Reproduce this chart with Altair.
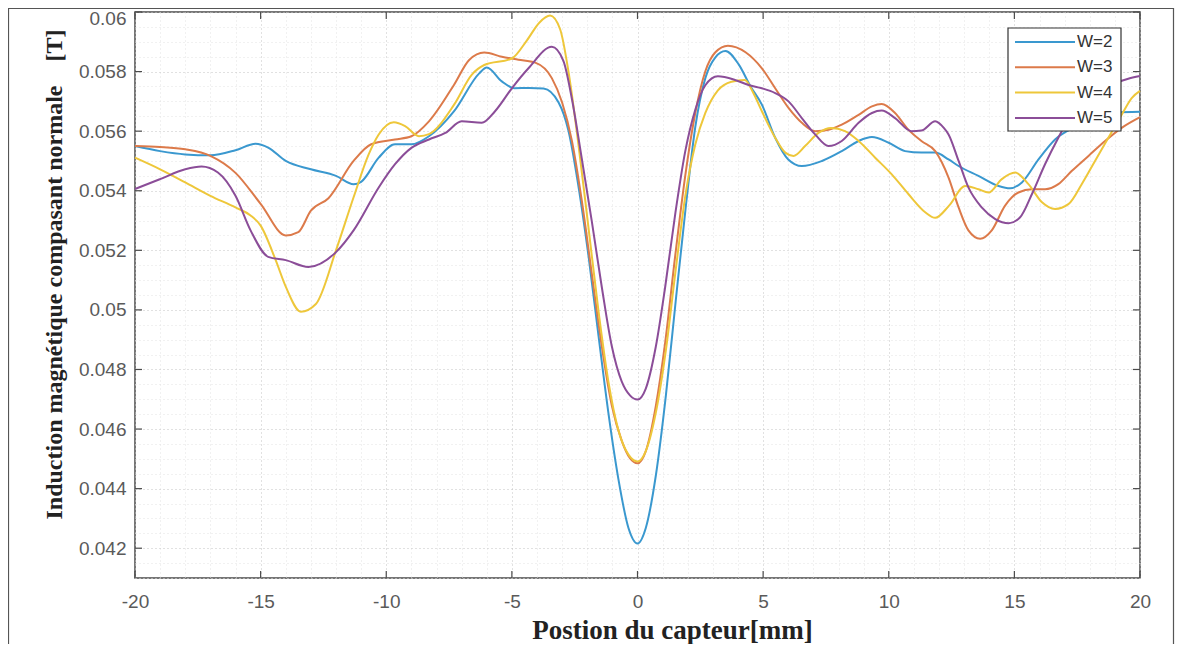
import altair as alt
import pandas as pd

# ---------------- data ----------------
series_names = ["W=2", "W=3", "W=4", "W=5"]
series_colors = ["#3a98cf", "#dc7a4a", "#eec73a", "#8b4d98"]

w2 = [(-20, 0.0555), (-19, 0.05533), (-18, 0.05522), (-17, 0.05519), (-16, 0.05536),
      (-15.2, 0.05558), (-14.7, 0.05545), (-14, 0.0550), (-13, 0.05472), (-12, 0.0545),
      (-11.3, 0.05422), (-11, 0.0543), (-10.3, 0.05511), (-9.65, 0.05556), (-9, 0.05556),
      (-8.3, 0.05583), (-7.3, 0.05667), (-6.3, 0.05794), (-6.0, 0.05814), (-5.4, 0.05767),
      (-4.9, 0.05744), (-4.3, 0.05745), (-3.74, 0.05743), (-3.14, 0.05696), (-2.75, 0.05602),
      (-2.35, 0.05415), (-1.95, 0.05181), (-1.55, 0.04912), (-1.16, 0.04655), (-0.76, 0.04432),
      (-0.36, 0.04268), (0, 0.04216), (0.33, 0.04268), (0.73, 0.04444), (1.13, 0.04713),
      (1.52, 0.05029), (1.92, 0.05345), (2.3, 0.05614), (2.7, 0.05778), (3.1, 0.05848),
      (3.5, 0.05869), (4.02, 0.05825), (4.5, 0.0575), (4.95, 0.05689), (5.48, 0.05578),
      (6.0, 0.05505), (6.54, 0.05483), (7.34, 0.055), (8.13, 0.05533), (8.8, 0.05567),
      (9.33, 0.0558), (10.0, 0.05561), (10.65, 0.05533), (11.3, 0.05528), (11.85, 0.05528),
      (12.38, 0.05505), (12.78, 0.05483), (13.57, 0.0545), (14.37, 0.05416), (14.83, 0.05408),
      (15.3, 0.05428), (15.96, 0.05505), (16.62, 0.05572), (17.3, 0.0561), (18.0, 0.0564),
      (19.0, 0.05662), (20, 0.05665)]

w3 = [(-20, 0.0555), (-19, 0.05547), (-18, 0.05539), (-17, 0.05517), (-16, 0.0546),
      (-15, 0.05356), (-14, 0.0525), (-13.5, 0.05261), (-13, 0.05333), (-12.3, 0.05375),
      (-11.3, 0.055), (-10.6, 0.05556), (-9.65, 0.05572), (-9, 0.05583), (-8.3, 0.05633),
      (-7.3, 0.05756), (-6.7, 0.05839), (-6.1, 0.05864), (-5.4, 0.0585), (-4.74, 0.0584),
      (-4.07, 0.0583), (-3.41, 0.05778), (-3.0, 0.05696), (-2.61, 0.05567), (-2.22, 0.05368),
      (-1.82, 0.05122), (-1.42, 0.04877), (-1.02, 0.04678), (-0.63, 0.04561), (-0.3, 0.04502),
      (0, 0.04485), (0.33, 0.04526), (0.73, 0.04678), (1.1, 0.04889), (1.5, 0.05181),
      (1.9, 0.0545), (2.3, 0.05661), (2.7, 0.05801), (3.1, 0.05865), (3.6, 0.05887),
      (4.3, 0.05865), (4.95, 0.05811), (5.48, 0.05744), (6.01, 0.05678), (6.54, 0.05628),
      (7.07, 0.056), (7.6, 0.05605), (8.13, 0.05622), (8.8, 0.05655), (9.33, 0.05683),
      (9.72, 0.05691), (10.25, 0.05661), (10.78, 0.05605), (11.3, 0.05567), (11.85, 0.05533),
      (12.38, 0.05444), (12.78, 0.05344), (13.17, 0.05267), (13.64, 0.05239), (14.1, 0.05267),
      (14.63, 0.0535), (15.16, 0.05394), (15.7, 0.05405), (16.22, 0.05405), (16.75, 0.05422),
      (17.28, 0.05466), (17.95, 0.05517), (18.61, 0.05567), (19.27, 0.05611), (20, 0.05647)]

w4 = [(-20, 0.05511), (-19, 0.05472), (-18, 0.05428), (-17, 0.05383), (-16, 0.05344),
      (-15.4, 0.05317), (-15, 0.05283), (-14.4, 0.05167), (-14, 0.05078), (-13.4, 0.04994),
      (-12.8, 0.0502), (-12, 0.0520), (-11.3, 0.05378), (-10.7, 0.05522), (-10.3, 0.05589),
      (-9.7, 0.0563), (-9.25, 0.05617), (-8.7, 0.05583), (-8.3, 0.0559), (-7.3, 0.05689),
      (-6.6, 0.05789), (-6.1, 0.05822), (-5.0, 0.05844), (-4.4, 0.05905), (-3.9, 0.05965),
      (-3.48, 0.05988), (-3.08, 0.05942), (-2.75, 0.05801), (-2.35, 0.05555), (-1.95, 0.05275),
      (-1.55, 0.04994), (-1.16, 0.0476), (-0.76, 0.04596), (-0.36, 0.04514), (0, 0.04491),
      (0.33, 0.04526), (0.73, 0.04655), (1.13, 0.04865), (1.52, 0.05134), (1.92, 0.05392),
      (2.3, 0.05555), (2.7, 0.05661), (3.2, 0.05737), (3.74, 0.05766), (4.27, 0.05772),
      (4.6, 0.0573), (4.95, 0.05667), (5.48, 0.05578), (5.88, 0.05528), (6.21, 0.05517),
      (6.67, 0.0555), (7.2, 0.05594), (7.7, 0.05611), (8.26, 0.056), (8.8, 0.05567),
      (9.46, 0.05511), (10.12, 0.05455), (10.78, 0.05389), (11.45, 0.05328), (11.85, 0.05309),
      (12.4, 0.0535), (13.04, 0.05416), (13.57, 0.05405), (13.97, 0.05394), (14.5, 0.05439),
      (15.03, 0.05461), (15.56, 0.05422), (16.1, 0.05361), (16.62, 0.05339), (17.15, 0.05355),
      (17.68, 0.05422), (18.21, 0.055), (18.74, 0.05578), (19.27, 0.05655), (19.67, 0.05711),
      (20, 0.05735)]

w5 = [(-20, 0.05406), (-19, 0.05439), (-18, 0.05472), (-17.35, 0.05481), (-16.7, 0.05461),
      (-16, 0.05383), (-15.4, 0.05267), (-14.7, 0.05178), (-14, 0.05167), (-13.1, 0.05144),
      (-12, 0.05194), (-11.3, 0.05267), (-10.3, 0.05411), (-9.65, 0.05489), (-9, 0.05544),
      (-8.3, 0.05572), (-7.65, 0.05594), (-7.0, 0.05633), (-6.2, 0.05628), (-5.67, 0.05667),
      (-5.0, 0.05744), (-4.34, 0.05811), (-3.41, 0.05883), (-2.95, 0.05836), (-2.61, 0.05708),
      (-2.22, 0.05509), (-1.82, 0.05298), (-1.42, 0.05076), (-1.02, 0.04877), (-0.63, 0.0476),
      (-0.3, 0.04713), (0, 0.04699), (0.33, 0.04736), (0.73, 0.04877), (1.1, 0.05076),
      (1.5, 0.05321), (1.9, 0.05532), (2.3, 0.05672), (2.7, 0.05754), (3.2, 0.05784),
      (3.88, 0.05772), (4.42, 0.05755), (4.95, 0.05744), (5.48, 0.05728), (6.01, 0.057),
      (6.54, 0.05644), (7.07, 0.05589), (7.6, 0.0555), (8.13, 0.05567), (8.8, 0.05628),
      (9.33, 0.05661), (9.72, 0.05669), (10.25, 0.05644), (10.9, 0.056), (11.3, 0.05602),
      (11.85, 0.05633), (12.2, 0.0561), (12.38, 0.05589), (12.78, 0.055), (13.17, 0.05411),
      (13.7, 0.05344), (14.24, 0.05305), (14.77, 0.05291), (15.23, 0.05311), (15.7, 0.05389),
      (16.22, 0.05489), (16.75, 0.05578), (17.3, 0.0566), (18.0, 0.0572), (19.0, 0.0576),
      (19.5, 0.05775), (20, 0.05785)]

x_major = [-20, -15, -10, -5, 0, 5, 10, 15, 20]
x_minor = list(range(-20, 21))
y_major = [0.042, 0.044, 0.046, 0.048, 0.05, 0.052, 0.054, 0.056, 0.058, 0.06]
y_minor = [round(0.041 + 0.0005 * i, 4) for i in range(39)]

x_title = "Postion du capteur[mm]"
y_title = "Induction magnétique compasant normale\u00a0\u00a0\u00a0\u00a0[T]"

# ---------------- build tables ----------------
rows = []
for name, pts in zip(series_names, [w2, w3, w4, w5]):
    for xv, yv in pts:
        rows.append({"pos": xv, "val": yv, "serie": name})
df = pd.DataFrame(rows)

W, H = 1005, 566
axis_col = "#4a4a4a"
TL = 7

xscale = alt.Scale(domain=[-20, 20], nice=False, zero=False)
yscale = alt.Scale(domain=[0.041, 0.06], nice=False, zero=False)

x_major_test = "datum.value % 5 == 0"
y_major_test = "abs(round(datum.value * 2000)) % 4 == 0"

x_axis = alt.Axis(
    values=x_minor, grid=True,
    gridColor={"condition": {"test": x_major_test, "value": "#c2c2c2"}, "value": "#e2e2e2"},
    gridDash=[1, 3], gridWidth=1,
    ticks=False, tickSize=0, domain=False,
    labelExpr=f"{x_major_test} ? '' + datum.value : ''",
    labelFont="Liberation Sans", labelFontSize=19, labelColor="#5a5a5a",
    labelPadding=14, labelFlush=False, labelOverlap=False,
    title=x_title, titleFont="Liberation Serif", titleFontSize=27,
    titleFontWeight="bold", titleColor="#222222",
    titleX=537, titleY=60, titleAlign="center", titleBaseline="alphabetic")

y_axis = alt.Axis(
    values=y_minor, grid=True,
    gridColor={"condition": {"test": y_major_test, "value": "#c2c2c2"}, "value": "#e2e2e2"},
    gridDash=[1, 3], gridWidth=1,
    ticks=False, tickSize=0, domain=False,
    labelExpr=f"{y_major_test} ? format(datum.value, '.3~f') : ''",
    labelFont="Liberation Sans", labelFontSize=19, labelColor="#5a5a5a",
    labelPadding=9, labelOverlap=False, labelFlush=False,
    labelOffset={"condition": {"test": "datum.value > 0.0599", "value": 6}, "value": 0},
    title=y_title, titleFont="Liberation Serif", titleFontSize=24,
    titleFontWeight="bold", titleColor="#222222", titleAngle=270,
    titleX=-81, titleY=262, titleAlign="center", titleBaseline="middle")

lines = alt.Chart(df).mark_line(strokeWidth=2, interpolate="monotone").encode(
    x=alt.X("pos:Q", scale=xscale, axis=x_axis),
    y=alt.Y("val:Q", scale=yscale, axis=y_axis),
    color=alt.Color("serie:N", scale=alt.Scale(domain=series_names, range=series_colors), legend=None),
)

xt = pd.DataFrame({"pos": x_major})
yt = pd.DataFrame({"val": y_major})

bottom_ticks = alt.Chart(xt).mark_rule(color=axis_col, strokeWidth=1.2).encode(
    x=alt.X("pos:Q", scale=xscale, axis=x_axis), y=alt.value(H), y2=alt.value(H - TL))
top_ticks = alt.Chart(xt).mark_rule(color=axis_col, strokeWidth=1.2).encode(
    x=alt.X("pos:Q", scale=xscale, axis=x_axis), y=alt.value(0), y2=alt.value(TL))
left_ticks = alt.Chart(yt).mark_rule(color=axis_col, strokeWidth=1.2).encode(
    y=alt.Y("val:Q", scale=yscale, axis=y_axis), x=alt.value(0), x2=alt.value(TL))
right_ticks = alt.Chart(yt).mark_rule(color=axis_col, strokeWidth=1.2).encode(
    y=alt.Y("val:Q", scale=yscale, axis=y_axis), x=alt.value(W), x2=alt.value(W - TL))

one = alt.Data(values=[{"k": 1}])

frame = alt.Chart(one).mark_rect(fill="white", fillOpacity=0, stroke="#555555", strokeWidth=1.2).encode(
    x=alt.value(-126.5), x2=alt.value(1038.5), y=alt.value(-3.5), y2=alt.value(700))

legend_box = alt.Chart(one).mark_rect(fill="white", stroke="#333333", strokeWidth=1.2).encode(
    x=alt.value(873), x2=alt.value(986), y=alt.value(16), y2=alt.value(119))

legend_layers = [legend_box]
for i, (name, col) in enumerate(zip(series_names, series_colors)):
    yy = 30 + 25.3 * i
    legend_layers.append(alt.Chart(one).mark_rule(color=col, strokeWidth=2).encode(
        x=alt.value(880), x2=alt.value(940), y=alt.value(yy)))
    legend_layers.append(alt.Chart(one).mark_text(
        align="left", baseline="middle", font="Liberation Sans", fontSize=17, color="#333333").encode(
        x=alt.value(942), y=alt.value(yy), text=alt.value(name)))

chart = alt.layer(
    lines, bottom_ticks, top_ticks, left_ticks, right_ticks, frame, *legend_layers
).properties(
    width=W, height=H,
    autosize=alt.AutoSizeParams(type="none"),
    padding={"left": 127, "top": 4, "right": 35, "bottom": 66},
    background="white",
).configure_view(stroke=axis_col, strokeWidth=1.5)

chart.save("out.html", embed_options={"renderer": "svg", "actions": False})
